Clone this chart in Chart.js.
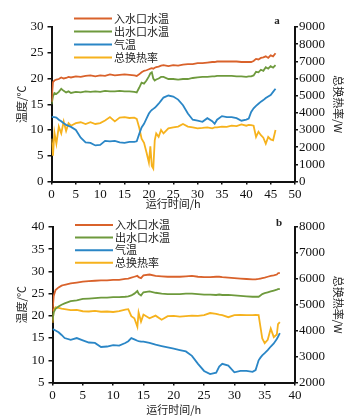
<!DOCTYPE html>
<html>
<head>
<meta charset="utf-8">
<script src="https://cdn.jsdelivr.net/npm/chart.js@4"></script>
<style>
  body { margin: 0; background: #fff; }
  .box { position: relative; width: 353px; height: 210px; }
</style>
</head>
<body>
<div class="box"><canvas id="chartA"></canvas></div>
<div class="box"><canvas id="chartB"></canvas></div>
<script>
var seriesNames = ['入水口水温', '出水口水温', '气温', '总换热率'];

// panel a
var timeA = [0, 0.3, 0.6, 1, 1.5, 2, 2.5, 3, 3.5, 4, 5, 6, 7, 8, 9, 10, 11, 12, 13, 14, 15, 16, 17, 17.5, 18, 18.5, 19, 19.5, 20, 20.3, 20.6, 20.9, 21.2, 21.5, 22, 22.5, 23, 24, 25, 26, 27, 28, 29, 30, 31, 32, 33, 33.5, 34, 35, 36, 37, 38, 39, 40, 40.5, 41, 41.5, 42, 42.5, 43, 43.5, 44, 44.5, 45, 45.5, 46];
var inletA = [15.5, 19.3, 19.6, 19.8, 19.9, 20.2, 20.0, 20.1, 20.3, 20.2, 20.4, 20.3, 20.5, 20.6, 20.4, 20.6, 20.5, 20.8, 20.6, 20.7, 20.8, 20.7, 20.6, 20.5, 20.8, 21.2, 21.5, 21.6, 21.8, 21.9, 22.0, 21.9, 22.1, 22.2, 22.3, 22.5, 22.6, 22.4, 22.6, 22.5, 22.7, 22.8, 22.8, 23.0, 23.0, 23.1, 23.2, 23.2, 23.3, 23.3, 23.3, 23.3, 23.3, 23.2, 23.2, 23.2, 23.2, 23.4, 23.8, 23.7, 24.0, 24.1, 24.3, 24.0, 24.5, 24.3, 24.9];
var outletA = [15.0, 16.5, 17.2, 17.0, 17.4, 18.0, 17.6, 17.3, 17.5, 17.2, 17.4, 17.3, 17.5, 17.4, 17.5, 17.4, 17.6, 17.5, 17.5, 17.6, 17.5, 17.5, 17.4, 17.3, 18.2, 19.2, 19.0, 19.6, 20.4, 21.0, 21.2, 20.0, 19.6, 19.8, 20.0, 20.3, 20.3, 19.9, 19.9, 19.8, 19.9, 19.9, 20.1, 20.2, 20.3, 20.3, 20.4, 20.4, 20.5, 20.5, 20.5, 20.5, 20.4, 20.4, 20.3, 20.4, 20.4, 20.6, 21.3, 21.2, 21.7, 21.5, 22.2, 21.9, 22.4, 22.1, 22.6];
var airA = [12.6, 12.5, 12.5, 12.4, 12.0, 11.7, 11.3, 11.0, 10.8, 10.6, 10.0, 8.5, 7.6, 7.5, 7.0, 7.1, 7.9, 7.8, 7.9, 7.6, 7.5, 7.7, 7.7, 7.8, 9.2, 10.5, 11.2, 12.2, 13.2, 13.6, 13.9, 14.1, 14.3, 14.6, 15.1, 15.7, 16.3, 16.7, 16.5, 15.9, 14.8, 13.2, 12.0, 11.8, 11.6, 12.3, 11.7, 11.2, 12.0, 12.7, 12.5, 12.5, 12.3, 11.8, 12.0, 12.2, 13.5, 14.2, 14.7, 15.1, 15.5, 15.8, 16.2, 16.5, 16.8, 17.4, 18.0];
var heatA = [2500, 1500, 2850, 2200, 3200, 2800, 3500, 2950, 3400, 3250, 3400, 3450, 3350, 3450, 3350, 3400, 3550, 3750, 3500, 3720, 3750, 3700, 3720, 3650, 3150, 2500, 2250, 1700, 1100, 2050, 900, 750, 2400, 2800, 2600, 3000, 2800, 3100, 3150, 3200, 3350, 3200, 3150, 3100, 3120, 3150, 3100, 3150, 3150, 3200, 3180, 3250, 3230, 3330, 3250, 3300, 3280, 3250, 2600, 2900, 2700, 2550, 2200, 2600, 2450, 2400, 3000];

// panel b
var timeB = [0, 0.2, 0.5, 1, 1.5, 2, 3, 4, 5, 6, 7, 8, 9, 10, 11, 12, 12.5, 13, 13.5, 14, 14.2, 14.6, 15, 16, 17, 18, 19, 20, 21, 22, 23, 24, 25, 26, 27, 27.5, 28, 29, 30, 31, 32, 33, 33.5, 34, 34.3, 34.6, 35, 35.5, 36, 36.5, 37, 37.2, 37.5];
var inletB = [21.0, 24.5, 25.8, 26.4, 26.8, 27.0, 27.3, 27.5, 27.7, 27.8, 27.9, 28.0, 28.0, 28.1, 28.1, 28.3, 28.4, 28.6, 28.8, 29.0, 28.7, 28.5, 29.1, 29.3, 29.0, 28.9, 28.8, 28.8, 28.8, 28.9, 29.0, 28.8, 28.7, 28.7, 28.8, 28.8, 28.7, 28.6, 28.5, 28.4, 28.3, 28.2, 28.2, 28.3, 28.4, 28.5, 28.6, 28.8, 29.0, 29.1, 29.3, 29.6, 29.7];
var outletB = [19.0, 20.8, 21.6, 22.1, 22.5, 22.8, 23.3, 23.5, 23.8, 23.9, 24.0, 24.1, 24.1, 24.2, 24.2, 24.3, 24.4, 24.6, 25.0, 25.6, 25.0, 24.6, 25.3, 25.5, 25.2, 25.0, 24.9, 24.9, 24.9, 25.0, 25.0, 24.9, 24.8, 24.8, 24.7, 24.8, 24.7, 24.7, 24.6, 24.5, 24.4, 24.3, 24.3, 24.3, 24.6, 24.9, 25.1, 25.3, 25.5, 25.7, 25.9, 26.0, 26.1];
var airB = [17.0, 16.9, 16.7, 16.3, 15.7, 15.0, 14.6, 15.0, 14.5, 14.0, 13.9, 13.0, 13.1, 13.4, 13.3, 13.9, 14.3, 15.0, 14.7, 14.4, 14.3, 14.2, 14.2, 13.9, 13.5, 13.2, 12.9, 12.6, 12.3, 12.0, 11.0, 9.2, 7.6, 6.9, 7.2, 8.6, 9.2, 8.8, 7.3, 7.6, 7.6, 7.4, 7.8, 10.0, 10.6, 11.1, 11.6, 12.3, 13.1, 13.8, 14.8, 15.3, 16.1];
var heatB = [4300, 4800, 4900, 4880, 4850, 4830, 4790, 4800, 4750, 4740, 4760, 4730, 4740, 4720, 4750, 4810, 4830, 4560, 4480, 4150, 4700, 4350, 4620, 4480, 4580, 4420, 4560, 4570, 4540, 4560, 4580, 4570, 4600, 4680, 4650, 4620, 4600, 4520, 4600, 4610, 4600, 4600, 4610, 4600, 4150, 3700, 3520, 3650, 4080, 3750, 3850, 4250, 4330];

var colors = ['#d9622b', '#6e9a3d', '#2a86c6', '#f6b21d'];

function pts(t, v) {
    return t.map(function (x, i) { return { x: x, y: v[i] }; });
}

// legend drawn inside the plot plus the panel letter
var innerLegend = {
    id: 'innerLegend',
    afterDraw: function (chart, args, o) {
        var ctx = chart.ctx;
        ctx.save();
        ctx.font = '11px "Noto Sans CJK SC"';
        ctx.textBaseline = 'middle';
        chart.data.datasets.forEach(function (ds, i) {
            var y = o.y + i * o.gap;
            ctx.strokeStyle = ds.borderColor;
            ctx.lineWidth = 2;
            ctx.beginPath();
            ctx.moveTo(o.x, y);
            ctx.lineTo(o.x + 38, y);
            ctx.stroke();
            ctx.fillStyle = '#222';
            ctx.fillText(ds.label, o.x + 40, y);
        });
        ctx.font = 'bold 11px "Liberation Serif"';
        ctx.textAlign = 'center';
        ctx.fillText(o.tag, o.tagX, o.tagY);
        ctx.restore();
    }
};

var serif = { family: '"Liberation Serif"', size: 13 };
var cjk = { family: '"Noto Sans CJK SC"', size: 11, lineHeight: 1.2 };

function plain(v) { return String(v); }

function axisLook(extra) {
    var a = {
        border: { color: '#111', width: 2 },
        grid: { drawOnChartArea: false, drawTicks: true, tickLength: 3, color: '#111', lineWidth: 1.5 },
        ticks: { color: '#111', font: serif, padding: 2 }
    };
    return Object.assign(a, extra);
}

function makeChart(id, d) {
    var ds = [d.inlet, d.outlet, d.air, d.heat].map(function (v, i) {
        return {
            label: seriesNames[i],
            data: pts(d.time, v),
            borderColor: colors[i],
            borderWidth: 1.8,
            pointRadius: 0,
            fill: false,
            tension: 0,
            yAxisID: i === 3 ? 'y1' : 'y'
        };
    });
    return new Chart(document.getElementById(id), {
        type: 'line',
        data: { datasets: ds },
        plugins: [innerLegend],
        options: {
            responsive: true,
            maintainAspectRatio: false,
            animation: false,
            layout: { padding: { top: d.top, left: 0, right: 0, bottom: 0 } },
            plugins: {
                legend: { display: false },
                tooltip: { enabled: false },
                innerLegend: d.legend
            },
            scales: {
                x: axisLook({
                    type: 'linear',
                    min: 0, max: d.xMax,
                    ticks: { color: '#111', font: serif, padding: 2, stepSize: 5, autoSkip: false, maxRotation: 0, callback: plain },
                    title: { display: true, text: '运行时间/h', color: '#222', font: cjk, padding: { top: 0, bottom: d.xTitlePad } },
                    afterFit: function (s) { s.height = d.xHeight; }
                }),
                y: axisLook({
                    position: 'left',
                    min: d.yMin, max: d.yMax,
                    ticks: { color: '#111', font: serif, padding: 4, stepSize: 5, autoSkip: false, callback: plain },
                    grid: { drawOnChartArea: false, drawTicks: true, tickLength: 4, color: '#111', lineWidth: 1.5 },
                    title: { display: true, text: '温度/℃', color: '#222', font: cjk, padding: { top: 15, bottom: 0 } },
                    afterFit: function (s) { s.width = d.leftW; }
                }),
                y1: axisLook({
                    position: 'right',
                    min: d.hMin, max: d.hMax,
                    ticks: { color: '#111', font: serif, padding: 1, stepSize: 1000, autoSkip: false, callback: plain },
                    title: { display: true, text: '总换热率/W', color: '#222', font: cjk, padding: { top: 8, bottom: 0 } },
                    afterFit: function (s) { s.width = 58; }
                })
            }
        }
    });
}

makeChart('chartA', {
    time: timeA, inlet: inletA, outlet: outletA, air: airA, heat: heatA,
    xMax: 50, yMin: 0, yMax: 30, hMin: 0, hMax: 9000,
    top: 27, xHeight: 28.5, xTitlePad: 0, leftW: 51.5,
    legend: { x: 74, y: 18.5, gap: 13, tag: 'a', tagX: 277, tagY: 21 }
});

makeChart('chartB', {
    time: timeB, inlet: inletB, outlet: outletB, air: airB, heat: heatB,
    xMax: 40, yMin: 5, yMax: 40, hMin: 2000, hMax: 8000,
    top: 17, xHeight: 37.5, xTitlePad: 4, leftW: 52.5,
    legend: { x: 75, y: 15, gap: 12.6, tag: 'b', tagX: 279, tagY: 13 }
});
</script>
</body>
</html>
